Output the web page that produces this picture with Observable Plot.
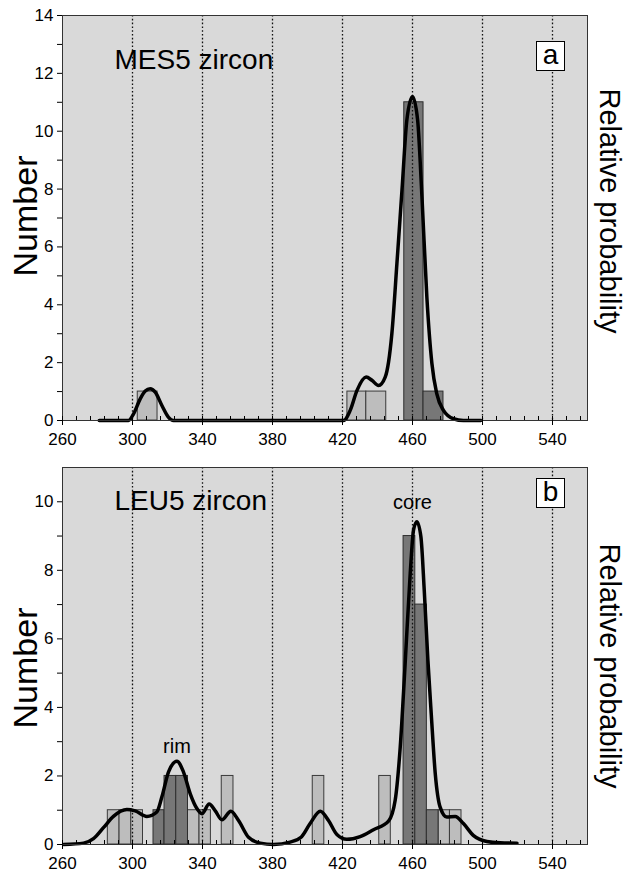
<!DOCTYPE html>
<html><head><meta charset="utf-8">
<script src="https://cdn.jsdelivr.net/npm/d3@7"></script>
<script src="https://cdn.jsdelivr.net/npm/@observablehq/plot@0.6"></script>
<style>
body{margin:0;background:#fff;font-family:"Liberation Sans",Arial,sans-serif;}
#wrap{position:relative;width:626px;height:873px;overflow:hidden;}
#wrap svg{display:block;}
.box{position:absolute;box-sizing:border-box;width:29px;height:30px;border:1px solid #000;background:#fff;font-size:28px;line-height:26px;text-align:center;color:#000;}
</style></head><body><div id="wrap"></div>
<script>
// ---------- data ----------
const xTicks = [260, 300, 340, 380, 420, 460, 500, 540];
const xMinorTicks = [268,276,284,292,308,316,324,332,348,356,364,372,388,396,404,412,428,436,444,452,468,476,484,492,508,516,524,532,548,556];
const gridAges = [300, 340, 380, 420, 460, 500, 540];
const yTicksA = [0, 2, 4, 6, 8, 10, 12, 14];
const yMinorA = [1, 3, 5, 7, 9, 11, 13];
const yTicksB = [0, 2, 4, 6, 8, 10];
const yMinorB = [1, 3, 5, 7, 9];

// histogram bins: [age from, age to, count]
const mesLightBins = [[303.0, 314.3, 1], [422.8, 433.6, 1], [433.6, 445.0, 1]];
const mesDarkBins = [[455.3, 466.3, 11], [466.3, 477.7, 1]];
const leuLightBins = [[285.9, 292.6, 1], [292.6, 299.3, 1], [299.3, 306.0, 1], [331.7, 338.3, 1], [338.3, 344.8, 1],
  [351.0, 357.7, 2], [403.0, 409.6, 2], [441.0, 447.6, 2], [474.9, 481.4, 1], [481.4, 488.0, 1]];
const leuDarkBins = [[312.0, 318.3, 1], [318.3, 325.0, 2], [325.0, 331.7, 2], [454.9, 461.6, 9], [461.6, 468.2, 7], [468.2, 474.9, 1]];

// probability curves: [age, height in "Number" units]
const mesCurve = [[281,0],[297.7,0],[300.6,0.23],[304.4,0.75],[307.3,1.02],[310.1,1.1],[313,0.98],[316.8,0.52],[320.6,0.11],[323.4,0],
  [420.6,0],[424.4,0.35],[428.3,1.04],[433.5,1.5],[436.8,1.39],[440.6,1.21],[444.4,1.5],[448.2,3.0],[451.1,5.43],[454,7.97],
  [456.8,10.4],[460,11.2],[462.9,10.4],[465.4,7.74],[468.2,4.27],[471.1,1.96],[473.9,0.92],[477.7,0.35],[483.4,0.06],[489.1,0],[499,0]];
const leuCurve = [[260.6,0],[272,0.04],[277.7,0.17],[283.4,0.49],[289.1,0.82],[296.8,1.02],[301.5,0.98],[308.2,0.82],[313.9,0.95],
  [316.8,1.39],[320.6,2.12],[325.4,2.43],[329.1,2.12],[333,1.48],[336.8,1.05],[339.7,0.9],[343.8,1.18],[347.3,0.98],[351.1,0.72],
  [356.2,0.97],[360.6,0.7],[366.3,0.21],[373,0.04],[380.6,0],[390.1,0.07],[396.5,0.22],[401.5,0.61],[407.3,0.97],[412,0.7],
  [416.8,0.29],[422.5,0.15],[430.1,0.23],[437.7,0.43],[446.3,0.68],[450.1,1.29],[453,2.85],[455.8,5.28],[458.7,7.91],[460.6,9.18],
  [462.5,9.42],[464.8,8.98],[466.7,7.43],[468.8,5.38],[470.7,3.82],[473,2.07],[475.8,1.09],[479.6,0.8],[484.4,0.82],[489.1,0.61],
  [494.9,0.26],[502.5,0.09],[510.1,0.05],[519.7,0.04]];

// peak annotations
const leuPeakLabels = [{age: 325.4, n: 2.85, label: "rim"}, {age: 460, n: 9.97, label: "core"}];

// ---------- drawing ----------
const FONT = "'Liberation Sans', Arial, sans-serif";

function panel(o) {
  return Plot.plot({
    width: 626, height: o.height,
    marginLeft: 62, marginRight: 39, marginTop: o.marginTop, marginBottom: o.marginBottom,
    style: {fontFamily: FONT, color: "#000", background: "transparent", overflow: "visible"},
    x: {domain: [260, 560]},
    y: {domain: o.yDomain},
    marks: [
      Plot.frame({fill: "#d9d9d9", stroke: null}),
      Plot.rect(o.light, {x1: d => d[0], x2: d => d[1], y1: 0, y2: d => d[2], fill: "#bdbdbd", stroke: "#3a3a3a", strokeWidth: 1}),
      Plot.rect(o.dark, {x1: d => d[0], x2: d => d[1], y1: 0, y2: d => d[2], fill: "#777777", stroke: "#2e2e2e", strokeWidth: 1}),
      Plot.ruleX(gridAges, {stroke: "#111", strokeDasharray: "1.6,2.2", strokeWidth: 1.3}),
      Plot.line(o.curve, {x: d => d[0], y: d => d[1], curve: "monotone-x", stroke: "#000", strokeWidth: 3.5}),
      Plot.frame({stroke: "#333", strokeWidth: 1}),
      Plot.axisX(xTicks, {tickSize: 5, tickPadding: 7, fontSize: 17, label: null}),
      Plot.axisX(xMinorTicks, {tickSize: -4, tickFormat: () => "", label: null}),
      Plot.axisX(xTicks, {tickSize: -4, tickFormat: () => "", label: null}),
      Plot.axisY(o.yTicks, {tickSize: 5, tickPadding: 4, fontSize: 17, label: null}),
      Plot.axisY(o.yMinor, {tickSize: 5, tickFormat: () => "", label: null}),
      Plot.text([o.title], {frameAnchor: "top-left", dx: 52, dy: o.titleDy, fontSize: 28, textAnchor: "start", lineAnchor: "middle"}),
      Plot.text(["Number"], {frameAnchor: "left", dx: -36, dy: o.numDy, rotate: -90, fontSize: 34, textAnchor: "middle", lineAnchor: "middle"}),
      Plot.text(["Relative probability"], {frameAnchor: "right", dx: 22, dy: o.relDy, rotate: 90, fontSize: 29, textAnchor: "middle", lineAnchor: "middle"}),
      ...(o.peaks ? [Plot.text(o.peaks, {x: "age", y: "n", text: "label", fontSize: 20, lineAnchor: "middle"})] : [])
    ]
  });
}

const wrap = document.getElementById("wrap");
wrap.append(panel({height: 455, marginTop: 15, marginBottom: 35, yDomain: [0, 14], yTicks: yTicksA, yMinor: yMinorA,
  light: mesLightBins, dark: mesDarkBins, curve: mesCurve, title: "MES5 zircon", titleDy: 45, numDy: -2, relDy: -7}));
wrap.append(panel({height: 418, marginTop: 12, marginBottom: 29, yDomain: [0, 11], yTicks: yTicksB, yMinor: yMinorB,
  light: leuLightBins, dark: leuDarkBins, curve: leuCurve, title: "LEU5 zircon", titleDy: 34, numDy: 12, relDy: 10, peaks: leuPeakLabels}));

for (const [lab, top] of [["a", 41], ["b", 478]]) {
  const d = document.createElement("div");
  d.className = "box"; d.textContent = lab;
  d.style.left = "536px"; d.style.top = top + "px";
  wrap.append(d);
}
</script></body></html>
